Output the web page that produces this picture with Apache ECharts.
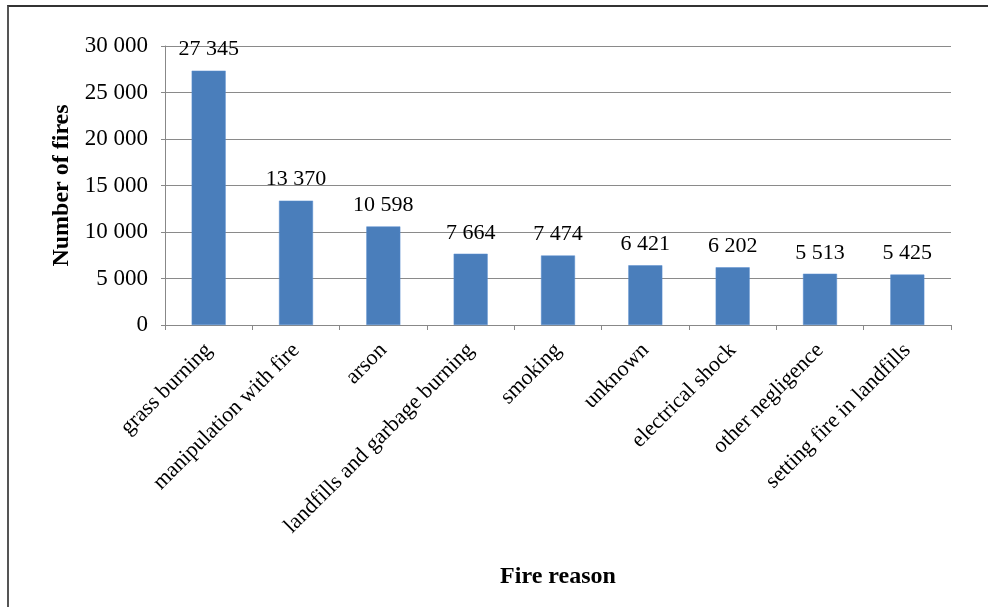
<!DOCTYPE html>
<html lang="en">
<head>
  <meta charset="UTF-8">
  <title>Fire reasons</title>
  <style>
    html, body { margin: 0; padding: 0; background: #fff; }
    #frame { position: absolute; left: 7px; top: 5px; width: 981px; height: 602px;
             border-top: 2px solid #333; border-left: 2px solid #555; box-sizing: border-box; }
    #chart { position: absolute; left: 0; top: 0; width: 988px; height: 607px; }
  </style>
</head>
<body>
<div id="frame"></div>
<div id="chart"></div>
<script src="https://cdn.jsdelivr.net/npm/echarts@6/dist/echarts.min.js"></script>
<script>
const categories = ['grass burning', 'manipulation with fire', 'arson', 'landfills and garbage burning',
  'smoking', 'unknown', 'electrical shock', 'other negligence', 'setting fire in landfills'];
const fires = [27345, 13370, 10598, 7664, 7474, 6421, 6202, 5513, 5425];

const serif = '"Liberation Serif", "Times New Roman", serif';
// 27345 -> "27 345"
const fmt = v => String(v).replace(/\B(?=(\d{3})+(?!\d))/g, ' ');

const chart = echarts.init(document.getElementById('chart'));
chart.setOption({
  animation: false,
  grid: { left: 165, right: 37, top: 46, bottom: 282 },
  xAxis: {
    type: 'category',
    data: categories,
    name: 'Fire reason',
    nameLocation: 'middle',
    nameGap: 240,
    nameTextStyle: { fontFamily: serif, fontSize: 24, fontWeight: 'bold', color: '#000' },
    axisLine: { lineStyle: { color: '#888' } },
    axisTick: { show: true, length: 5, lineStyle: { color: '#888' } },
    axisLabel: { rotate: 45, interval: 0, margin: 22, fontFamily: serif, fontSize: 22, color: '#000' }
  },
  yAxis: {
    type: 'value',
    min: 0,
    max: 30000,
    interval: 5000,
    name: 'Number of fires',
    nameLocation: 'middle',
    nameGap: 90,
    nameTextStyle: { fontFamily: serif, fontSize: 24, fontWeight: 'bold', color: '#000' },
    axisLine: { show: true, lineStyle: { color: '#888' } },
    axisTick: { show: true, inside: false, length: 4, lineStyle: { color: '#888' } },
    splitLine: { lineStyle: { color: '#8a8a8a', width: 1 } },
    axisLabel: { fontFamily: serif, fontSize: 23, color: '#000', margin: 17, formatter: fmt }
  },
  series: [{
    type: 'bar',
    data: fires,
    barWidth: 34,
    itemStyle: { color: '#4a7ebb', borderColor: '#5b8fd0', borderWidth: 0.5 },
    label: {
      show: true,
      position: 'top',
      distance: 10,
      fontFamily: serif,
      fontSize: 22,
      color: '#000',
      formatter: p => fmt(p.value)
    }
  }]
});
</script>
</body>
</html>
